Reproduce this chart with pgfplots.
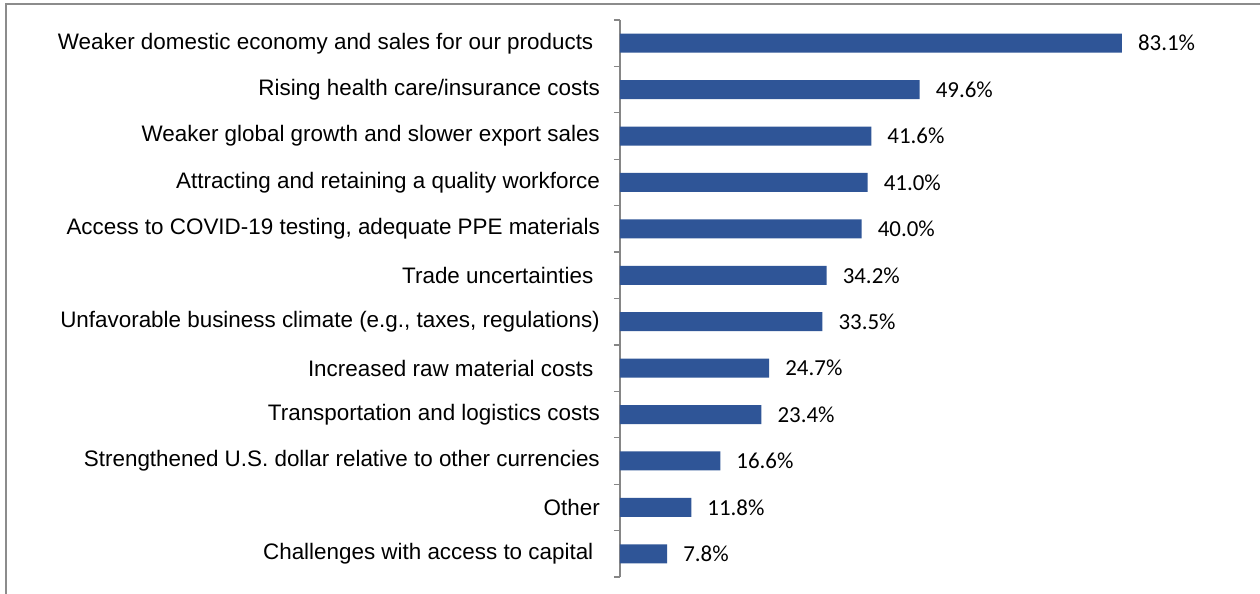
\documentclass[border=0pt]{standalone}
\usepackage{fontspec}
\setmainfont{Liberation Sans}
\newfontfamily\calibri{Carlito}
\usepackage{pgfplots}
\pgfplotsset{compat=1.18}
\definecolor{barblue}{RGB}{47,85,151}
\definecolor{axgray}{RGB}{134,134,134}
\definecolor{framegray}{RGB}{140,140,140}
\newcommand{\tsp}{\hspace*{6.5bp}}
\begin{document}
\begin{tikzpicture}
\useasboundingbox (-620bp,-17bp) rectangle (640bp,577bp);
\fill[white] (-620bp,-17bp) rectangle (640bp,577bp);
\draw[framegray, line width=1.5bp] (-614bp,-40bp) rectangle (700bp,573bp);
\begin{axis}[
  at={(0,0)}, anchor=south west,
  scale only axis, width=604bp, height=557bp,
  xbar, bar width=19bp,
  xmin=0, xmax=100,
  ymin=-0.5, ymax=11.5, y dir=reverse,
  enlargelimits=false,
  axis x line=none,
  axis y line*=left,
  axis line style={axgray, line width=1.2bp},
  ytick={0,...,11},
  yticklabels={
    {Weaker domestic economy and sales for our products\tsp},
    Rising health care/insurance costs,
    Weaker global growth and slower export sales,
    Attracting and retaining a quality workforce,
    {Access to COVID-19 testing, adequate PPE materials},
    {Trade uncertainties\tsp},
    {Unfavorable business climate (e.g., taxes, regulations)},
    {Increased raw material costs\tsp},
    Transportation and logistics costs,
    Strengthened U.S. dollar relative to other currencies,
    Other,
    {Challenges with access to capital\tsp}},
  major tick length=0pt,
  minor ytick={-0.5,0.5,...,11.5},
  minor tick length=6bp,
  tick align=outside,
  minor tick style={axgray, line width=1.2bp},
  yticklabel style={font=\fontsize{22.5}{26}\selectfont, inner sep=0pt, xshift=-20bp},
  nodes near coords={\pgfmathprintnumber[fixed,fixed zerofill,precision=1,assume math mode=true]{\pgfplotspointmeta}\%},
  nodes near coords style={font=\calibri\fontsize{23}{26}\selectfont, anchor=west, inner sep=0pt, xshift=16bp, black},
  clip=false,
]
\addplot[fill=barblue, draw=none] coordinates {
  (83.1,0) (49.6,1) (41.6,2) (41.0,3) (40.0,4) (34.2,5)
  (33.5,6) (24.7,7) (23.4,8) (16.6,9) (11.8,10) (7.8,11)
};
\end{axis}
\end{tikzpicture}
\end{document}
